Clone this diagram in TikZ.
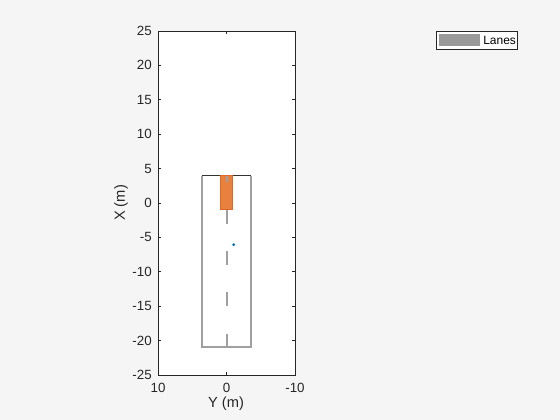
\documentclass[tikz,border=0pt]{standalone}
\usepackage{fontspec}
\setmainfont{Liberation Sans}
\definecolor{figBg}{RGB}{245,245,245}
\definecolor{laneGray}{RGB}{160,160,160}
\definecolor{legGray}{RGB}{153,153,153}
\definecolor{carOrange}{RGB}{232,128,62}
\definecolor{carEdge}{RGB}{222,104,40}
\definecolor{egoBlue}{RGB}{0,114,189}
\tikzset{
  ticklbl/.style={font=\fontsize{10}{12}\selectfont, text=black!85, inner sep=0pt},
  axlbl/.style={font=\fontsize{11}{13}\selectfont, text=black!85, inner sep=0pt},
  lane/.style={draw=laneGray, line width=1.5pt},
  tick/.style={draw=black!85, line width=0.5pt},
}

\begin{document}
\begin{tikzpicture}[x=0.75pt, y=0.75pt]
  \useasboundingbox[fill=figBg] (0,0) rectangle (560,420);
  % axes area
  \draw[fill=white, draw=black!85, line width=0.5pt] (158,45) rectangle (295,389);

  % data frame: (Y, X) in metres
  \begin{scope}[shift={(226.5,217)}, x={(-5.1375pt,0pt)}, y={(0pt,5.16pt)}]
    % ticks and tick labels
    \foreach \v in {-25,-20,...,25} {
      \draw[tick] (10,\v) -- ++(-0.5,0);
      \draw[tick] (-10,\v) -- ++(0.5,0);
      \node[ticklbl, anchor=east, xshift=-4.5pt] at (10,\v) {\v};
    }
    \foreach \v in {-10,0,10} {
      \draw[tick] (\v,-25) -- ++(0,0.5);
      \draw[tick] (\v,25) -- ++(0,-0.5);
      \node[ticklbl, anchor=north, yshift=-5.6pt] at (\v,-25) {\v};
    }

    % road edges
    \draw[lane] (3.6,3.95) -- (3.6,-21) -- (-3.6,-21) -- (-3.6,3.95);
    \draw[black!80, line width=0.9pt] (3.6,3.95) -- (-3.6,3.95);

    % vehicle
    \draw[fill=carOrange, draw=carEdge, line width=0.6pt] (0.9,-0.92) rectangle (-0.9,3.95);

    % centre dashes
    \foreach \a/\b in {3.95/3.1, -1/-3, -7/-9, -13/-15, -19/-21}
      \draw[lane] (0,\a) -- (0,\b);

    % ego point
    \fill[egoBlue] (-1.05,-6.06) circle (1.2pt);
  \end{scope}

  % axis labels
  \node[axlbl, rotate=90] (xlabel) at (121,217) {X (m)};
  \node[axlbl] (ylabel) at (226,16) {Y (m)};

  % legend
  \node[draw=black!85, fill=white, line width=0.5pt, minimum width=60.75pt,
        minimum height=13.5pt, inner sep=0pt] (legend) at (476.5,380) {};
  \fill[legGray] (439,374) rectangle (480,386);
  \node[font=\fontsize{9}{11}\selectfont, inner sep=0pt, anchor=west] (lanes) at (483,380) {Lanes};
\end{tikzpicture}
\end{document}
